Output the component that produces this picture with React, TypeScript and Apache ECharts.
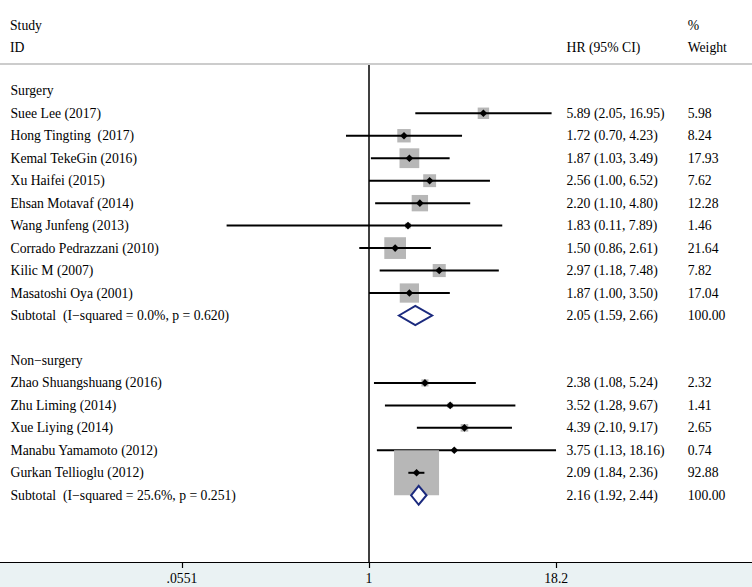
import React, { useEffect, useRef } from "react";
import * as echarts from "echarts";

// ---------- DATA ----------
const groupNames = ["Surgery", "Non\u2212surgery"];
const studyNames = [
  "Suee Lee (2017)",
  "Hong Tingting  (2017)",
  "Kemal TekeGin (2016)",
  "Xu Haifei (2015)",
  "Ehsan Motavaf (2014)",
  "Wang Junfeng (2013)",
  "Corrado Pedrazzani (2010)",
  "Kilic M (2007)",
  "Masatoshi Oya (2001)",
  "Zhao Shuangshuang (2016)",
  "Zhu Liming (2014)",
  "Xue Liying (2014)",
  "Manabu Yamamoto (2012)",
  "Gurkan Tellioglu (2012)",
];
const studyGroup = [0, 0, 0, 0, 0, 0, 0, 0, 0, 1, 1, 1, 1, 1];
const studyHR = [5.89, 1.72, 1.87, 2.56, 2.2, 1.83, 1.5, 2.97, 1.87, 2.38, 3.52, 4.39, 3.75, 2.09];
const studyLower = [2.05, 0.7, 1.03, 1.0, 1.1, 0.11, 0.86, 1.18, 1.0, 1.08, 1.28, 2.1, 1.13, 1.84];
const studyUpper = [16.95, 4.23, 3.49, 6.52, 4.8, 7.89, 2.61, 7.48, 3.5, 5.24, 9.67, 9.17, 18.16, 2.36];
const studyWeight = [5.98, 8.24, 17.93, 7.62, 12.28, 1.46, 21.64, 7.82, 17.04, 2.32, 1.41, 2.65, 0.74, 92.88];

const subtotalLabels = [
  "Subtotal  (I\u2212squared = 0.0%, p = 0.620)",
  "Subtotal  (I\u2212squared = 25.6%, p = 0.251)",
];
const subtotalHR = [2.05, 2.16];
const subtotalLower = [1.59, 1.92];
const subtotalUpper = [2.66, 2.44];
const subtotalWeight = [100.0, 100.0];

const xTickValues = [0.0551, 1, 18.2];
const xTickLabels = [".0551", "1", "18.2"];
const nullValue = 1;

// ---------- LAYOUT ----------
const FONT = "Liberation Serif, Times New Roman, serif";
const FS = 13.7;
const W = 752;
const H = 587;
const GRID_TOP = 65;
const GRID_BOTTOM = 25;
const ROW0_Y = 90.8;
const ROW_STEP = 22.47;
const PX_PER_DECADE = 148.55;
const NULL_X = 369;
const xMin = Math.pow(10, -NULL_X / PX_PER_DECADE);
const xMax = Math.pow(10, (W - NULL_X) / PX_PER_DECADE);
const yMin = (GRID_TOP - ROW0_Y) / ROW_STEP;
const yMax = (H - GRID_BOTTOM - ROW0_Y) / ROW_STEP;

const LABEL_X = 10.5;
const CI_X = 566.5;
const WT_X = 687.7;

type Row = {
  kind: "group" | "study" | "subtotal";
  label: string;
  idx: number;
};

function buildRows(): Row[] {
  const rows: Row[] = [];
  groupNames.forEach((g, gi) => {
    if (gi > 0) rows.push({ kind: "group", label: "", idx: -1 });
    rows.push({ kind: "group", label: g, idx: gi });
    studyNames.forEach((s, si) => {
      if (studyGroup[si] === gi) rows.push({ kind: "study", label: s, idx: si });
    });
    rows.push({ kind: "subtotal", label: subtotalLabels[gi], idx: gi });
  });
  return rows;
}

export default function App() {
  const ref = useRef<HTMLDivElement>(null);

  useEffect(() => {
    document.body.style.margin = "0";
    if (!ref.current) return;
    const chart = echarts.init(ref.current, null, { renderer: "svg" });
    const rows = buildRows();

    const studyData: number[][] = [];
    const subData: number[][] = [];
    const textData: any[] = [];
    rows.forEach((r, ri) => {
      if (r.kind === "study") {
        const i = r.idx;
        studyData.push([studyHR[i], ri, studyLower[i], studyUpper[i], studyWeight[i]]);
        textData.push({
          value: [1, ri],
          l: r.label,
          ci: `${studyHR[i].toFixed(2)} (${studyLower[i].toFixed(2)}, ${studyUpper[i].toFixed(2)})`,
          w: studyWeight[i].toFixed(2),
        });
      } else if (r.kind === "subtotal") {
        const i = r.idx;
        subData.push([subtotalHR[i], ri, subtotalLower[i], subtotalUpper[i]]);
        textData.push({
          value: [1, ri],
          l: r.label,
          ci: `${subtotalHR[i].toFixed(2)} (${subtotalLower[i].toFixed(2)}, ${subtotalUpper[i].toFixed(2)})`,
          w: subtotalWeight[i].toFixed(2),
        });
      } else if (r.label) {
        textData.push({ value: [1, ri], l: r.label, ci: "", w: "" });
      }
    });

    const txt = (s: string, x: number, y: number) => ({
      type: "text",
      x,
      y,
      style: {
        text: s,
        fontFamily: FONT,
        fontSize: FS,
        fill: "#000",
        align: "left",
        verticalAlign: "middle",
      },
    });

    const option: any = {
      animation: false,
      backgroundColor: "#ffffff",
      grid: { left: 0, right: 0, top: GRID_TOP, bottom: GRID_BOTTOM, containLabel: false },
      xAxis: {
        type: "log",
        logBase: 10,
        min: xMin,
        max: xMax,
        axisLine: { show: true, onZero: false, lineStyle: { color: "#000", width: 1 } },
        axisTick: {
          show: true,
          customValues: xTickValues,
          length: 6,
          lineStyle: { color: "#000", width: 1.2 },
        },
        axisLabel: {
          customValues: xTickValues,
          margin: 9,
          color: "#000",
          fontFamily: FONT,
          fontSize: FS,
          formatter: (v: number) => {
            let best = 0;
            let bd = Infinity;
            xTickValues.forEach((t, i) => {
              const d = Math.abs(Math.log(v) - Math.log(t));
              if (d < bd) {
                bd = d;
                best = i;
              }
            });
            return xTickLabels[best];
          },
        },
        splitLine: { show: false },
        minorTick: { show: false },
      },
      yAxis: {
        type: "value",
        inverse: true,
        min: yMin,
        max: yMax,
        show: false,
        splitLine: { show: false },
      },
      graphic: [
        {
          type: "rect",
          shape: { x: 0, y: H - GRID_BOTTOM, width: W, height: GRID_BOTTOM },
          style: { fill: "#eaf2f3" },
          z: -10,
          silent: true,
        },
        {
          type: "line",
          shape: { x1: 0, y1: 64, x2: W, y2: 64 },
          style: { stroke: "#cccccc", lineWidth: 2 },
          silent: true,
        },
        txt("Study", 10, 25),
        txt("ID", 10, 47),
        txt("HR (95% CI)", CI_X, 47),
        txt("%", WT_X, 25),
        txt("Weight", WT_X, 47),
      ],
      series: [
        {
          type: "line",
          data: [
            [nullValue, yMin],
            [nullValue, yMax],
          ],
          symbol: "none",
          lineStyle: { color: "#000", width: 1.5 },
          silent: true,
          z: 1,
        },
        {
          type: "custom",
          clip: false,
          z: 2,
          encode: { x: 0, y: 1 },
          data: studyData,
          renderItem: (params: any, api: any) => {
            const est = api.value(0);
            const row = api.value(1);
            const lo = api.value(2);
            const hi = api.value(3);
            const w = api.value(4);
            const c = api.coord([est, row]);
            const l = api.coord([lo, row]);
            const h = api.coord([hi, row]);
            const s = 4.67 * Math.sqrt(w);
            const d = 3.8;
            return {
              type: "group",
              children: [
                {
                  type: "rect",
                  shape: { x: c[0] - s / 2, y: c[1] - s / 2, width: s, height: s },
                  style: { fill: "#b7b7b7" },
                },
                {
                  type: "line",
                  shape: { x1: l[0], y1: l[1], x2: h[0], y2: h[1] },
                  style: { stroke: "#000", lineWidth: 2 },
                },
                {
                  type: "polygon",
                  shape: {
                    points: [
                      [c[0] - d, c[1]],
                      [c[0], c[1] - d],
                      [c[0] + d, c[1]],
                      [c[0], c[1] + d],
                    ],
                  },
                  style: { fill: "#000" },
                },
              ],
            };
          },
        },
        {
          type: "custom",
          clip: false,
          z: 3,
          encode: { x: 0, y: 1 },
          data: subData,
          renderItem: (params: any, api: any) => {
            const est = api.value(0);
            const row = api.value(1);
            const lo = api.value(2);
            const hi = api.value(3);
            const c = api.coord([est, row]);
            const l = api.coord([lo, row]);
            const h = api.coord([hi, row]);
            const hh = 9.5;
            return {
              type: "polygon",
              shape: {
                points: [
                  [l[0], c[1]],
                  [c[0], c[1] - hh],
                  [h[0], c[1]],
                  [c[0], c[1] + hh],
                ],
              },
              style: { fill: "#ffffff", stroke: "#1b2a7e", lineWidth: 2 },
            };
          },
        },
        {
          type: "custom",
          clip: false,
          z: 4,
          encode: { x: 0, y: 1 },
          data: textData,
          renderItem: (params: any, api: any) => {
            const item = textData[params.dataIndex];
            const p = api.coord([1, api.value(1)]);
            const children: any[] = [txt(item.l, LABEL_X, p[1])];
            if (item.ci) children.push(txt(item.ci, CI_X, p[1]));
            if (item.w) children.push(txt(item.w, WT_X, p[1]));
            return { type: "group", children };
          },
        },
      ],
    };

    chart.setOption(option);
    return () => chart.dispose();
  }, []);

  return <div ref={ref} style={{ width: W, height: H }} />;
}
